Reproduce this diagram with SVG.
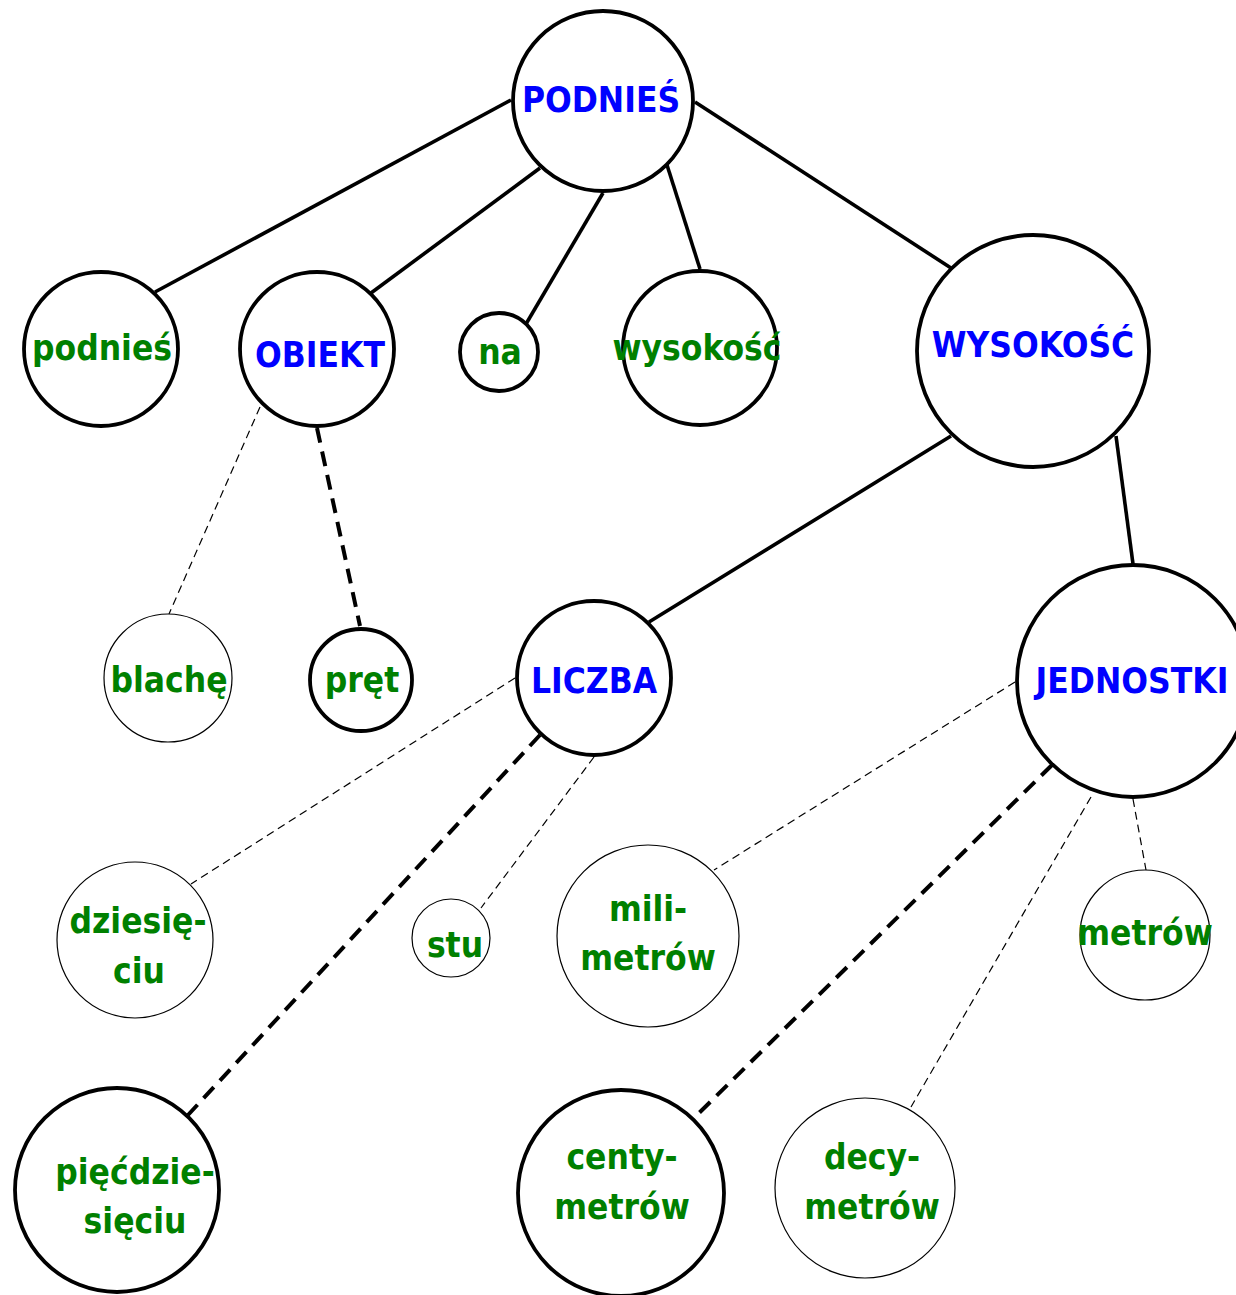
<svg xmlns="http://www.w3.org/2000/svg" width="1236" height="1295" viewBox="0 0 1236 1295">
  <style>
    .bg { fill: #ffffff; }
    .n { fill: #ffffff; stroke: #000000; }
    .thick { stroke-width: 3.8; }
    .thin { stroke-width: 1.2; }
    text { font-family: "DejaVu Sans Condensed", "DejaVu Sans", Verdana, sans-serif; font-weight: bold; font-size: 35px; text-anchor: middle; }
    .up { fill: #0000ff; }
    .lo { fill: #008000; }
    .e { stroke: #000000; fill: none; }
    .solid { stroke-width: 3.6; }
    .dash-thick { stroke-width: 4; stroke-dasharray: 15 9; }
    .dash-thin { stroke-width: 1.2; stroke-dasharray: 8 5; }
  </style>
  <rect class="bg" x="0" y="0" width="1236" height="1295"/>

  <g id="connectors">
    <line class="e solid" x1="511" y1="100" x2="155" y2="292"/>
    <line class="e solid" x1="540" y1="168" x2="371" y2="293"/>
    <line class="e solid" x1="603" y1="193" x2="526" y2="324"/>
    <line class="e solid" x1="667" y1="165" x2="700" y2="269"/>
    <line class="e solid" x1="695" y1="102" x2="951" y2="268"/>
    <line class="e solid" x1="951" y1="436" x2="649" y2="622"/>
    <line class="e solid" x1="1116" y1="436" x2="1133" y2="564"/>
    <line class="e dash-thin" x1="260" y1="407" x2="169" y2="614"/>
    <line class="e dash-thick" x1="317" y1="428" x2="360" y2="626"/>
    <line class="e dash-thin" x1="515" y1="678" x2="191" y2="884"/>
    <line class="e dash-thick" x1="540" y1="735" x2="188" y2="1115"/>
    <line class="e dash-thin" x1="594" y1="757" x2="481" y2="908"/>
    <line class="e dash-thin" x1="1015" y1="682" x2="714" y2="870"/>
    <line class="e dash-thick" x1="1052" y1="765" x2="694" y2="1118"/>
    <line class="e dash-thin" x1="1091" y1="797" x2="911" y2="1107"/>
    <line class="e dash-thin" x1="1133" y1="799" x2="1146" y2="870"/>
  </g>

  <g id="node-podnies-root">
    <circle class="n thick" cx="603" cy="101" r="90"/>
    <text class="up" x="601" y="112">PODNIEŚ</text>
  </g>
  <g id="node-podnies">
    <circle class="n thick" cx="101" cy="349" r="77"/>
    <text class="lo" x="102" y="360">podnieś</text>
  </g>
  <g id="node-obiekt">
    <circle class="n thick" cx="317" cy="349" r="77"/>
    <text class="up" x="320" y="367">OBIEKT</text>
  </g>
  <g id="node-na">
    <circle class="n thick" cx="499" cy="352" r="39"/>
    <text class="lo" x="500" y="364">na</text>
  </g>
  <g id="node-wysokosc">
    <circle class="n thick" cx="700" cy="348" r="77"/>
    <text class="lo" x="697" y="360">wysokość</text>
  </g>
  <g id="node-wysokosc-root">
    <circle class="n thick" cx="1033" cy="351" r="116"/>
    <text class="up" x="1033" y="357">WYSOKOŚĆ</text>
  </g>
  <g id="node-blache">
    <circle class="n thin" cx="168" cy="678" r="64"/>
    <text class="lo" x="169" y="692">blachę</text>
  </g>
  <g id="node-pret">
    <circle class="n thick" cx="361" cy="680" r="51"/>
    <text class="lo" x="362" y="692">pręt</text>
  </g>
  <g id="node-liczba">
    <circle class="n thick" cx="594" cy="678" r="77"/>
    <text class="up" x="594" y="693">LICZBA</text>
  </g>
  <g id="node-jednostki">
    <circle class="n thick" cx="1133" cy="681" r="116"/>
    <text class="up" x="1132" y="693">JEDNOSTKI</text>
  </g>
  <g id="node-dziesieciu">
    <circle class="n thin" cx="135" cy="940" r="78"/>
    <text class="lo" x="138" y="933">dziesię-</text>
    <text class="lo" x="139" y="983">ciu</text>
  </g>
  <g id="node-stu">
    <circle class="n thin" cx="451" cy="938" r="39"/>
    <text class="lo" x="455" y="957">stu</text>
  </g>
  <g id="node-milimetrow">
    <circle class="n thin" cx="648" cy="936" r="91"/>
    <text class="lo" x="648" y="921">mili-</text>
    <text class="lo" x="648" y="970">metrów</text>
  </g>
  <g id="node-metrow">
    <circle class="n thin" cx="1145" cy="935" r="65"/>
    <text class="lo" x="1145" y="945">metrów</text>
  </g>
  <g id="node-piecdziesieciu">
    <circle class="n thick" cx="117" cy="1190" r="102"/>
    <text class="lo" x="135" y="1184">pięćdzie-</text>
    <text class="lo" x="135" y="1233">sięciu</text>
  </g>
  <g id="node-centymetrow">
    <circle class="n thick" cx="621" cy="1193" r="103"/>
    <text class="lo" x="622" y="1169">centy-</text>
    <text class="lo" x="622" y="1219">metrów</text>
  </g>
  <g id="node-decymetrow">
    <circle class="n thin" cx="865" cy="1188" r="90"/>
    <text class="lo" x="872" y="1169">decy-</text>
    <text class="lo" x="872" y="1219">metrów</text>
  </g>
</svg>
